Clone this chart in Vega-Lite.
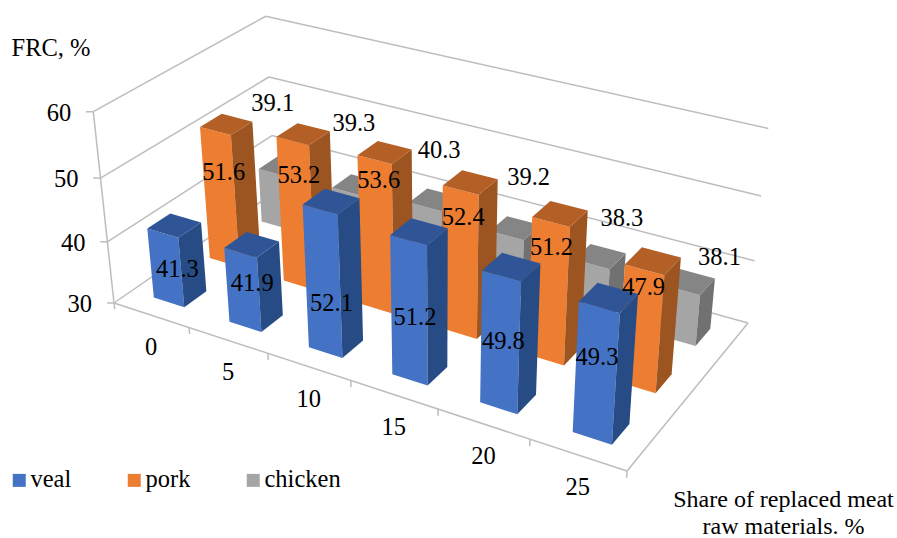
{"$schema":"https://vega.github.io/schema/vega-lite/v6.json","width":897,"height":538,"padding":0,"autosize":{"type":"none"},"background":"white","config":{"view":{"stroke":null},"text":{"font":"Liberation Serif","fontSize":24.5,"color":"#000000"},
"axisX":{"domain":false,"ticks":false,"labels":false,"grid":false,"titleFont":"Liberation Serif","titleFontSize":24,"titleFontWeight":"normal","titleColor":"#000000","titleX":783,"titleY":-32,"titleAlign":"center","titleBaseline":"alphabetic","titleLineHeight":27},
"axisY":{"domain":false,"ticks":false,"labels":false,"grid":false,"titleFont":"Liberation Serif","titleFontSize":24.5,"titleFontWeight":"normal","titleColor":"#000000","titleAngle":0,"titleX":11,"titleY":55,"titleAlign":"left","titleBaseline":"alphabetic"}},
"datasets":{
"bars":[{"share":0,"meat":"chicken","value":39.1},{"share":5,"meat":"chicken","value":39.3},{"share":10,"meat":"chicken","value":40.3},{"share":15,"meat":"chicken","value":39.2},{"share":20,"meat":"chicken","value":38.3},{"share":25,"meat":"chicken","value":38.1},{"share":0,"meat":"pork","value":51.6},{"share":5,"meat":"pork","value":53.2},{"share":10,"meat":"pork","value":53.6},{"share":15,"meat":"pork","value":52.4},{"share":20,"meat":"pork","value":51.2},{"share":25,"meat":"pork","value":47.9},{"share":0,"meat":"veal","value":41.3},{"share":5,"meat":"veal","value":41.9},{"share":10,"meat":"veal","value":52.1},{"share":15,"meat":"veal","value":51.2},{"share":20,"meat":"veal","value":49.8},{"share":25,"meat":"veal","value":49.3}],
"frame":[
{"s1":0,"d1":0,"l1":30,"s2":0,"d2":3,"l2":30},{"s1":0,"d1":3,"l1":30,"s2":30,"d2":3,"l2":30},
{"s1":0,"d1":0,"l1":40,"s2":0,"d2":3,"l2":40},{"s1":0,"d1":3,"l1":40,"s2":30,"d2":3,"l2":40},
{"s1":0,"d1":0,"l1":50,"s2":0,"d2":3,"l2":50},{"s1":0,"d1":3,"l1":50,"s2":30,"d2":3,"l2":50},
{"s1":0,"d1":0,"l1":60,"s2":0,"d2":3,"l2":60},{"s1":0,"d1":3,"l1":60,"s2":30,"d2":3,"l2":60},
{"s1":0,"d1":0,"l1":30,"s2":30,"d2":0,"l2":30},{"s1":30,"d1":0,"l1":30,"s2":30,"d2":3,"l2":30},{"s1":0,"d1":0,"l1":30,"s2":0,"d2":0,"l2":60},
{"s1":0,"d1":0,"l1":30,"s2":-0.325,"d2":-0.037,"l2":30},{"s1":0,"d1":0,"l1":40,"s2":-0.325,"d2":-0.037,"l2":40},{"s1":0,"d1":0,"l1":50,"s2":-0.325,"d2":-0.037,"l2":50},{"s1":0,"d1":0,"l1":60,"s2":-0.325,"d2":-0.037,"l2":60},
{"s1":0,"d1":0,"l1":30,"s2":0,"d2":0,"l2":28.95},{"s1":5,"d1":0,"l1":30,"s2":5,"d2":0,"l2":28.95},{"s1":10,"d1":0,"l1":30,"s2":10,"d2":0,"l2":28.95},{"s1":15,"d1":0,"l1":30,"s2":15,"d2":0,"l2":28.95},{"s1":20,"d1":0,"l1":30,"s2":20,"d2":0,"l2":28.95},{"s1":25,"d1":0,"l1":30,"s2":25,"d2":0,"l2":28.95},{"s1":30,"d1":0,"l1":30,"s2":30,"d2":0,"l2":28.95}],
"levels":[{"level":30},{"level":40},{"level":50},{"level":60}],
"shares":[{"share":0},{"share":5},{"share":10},{"share":15},{"share":20},{"share":25}]},
"layer":[
{"data":{"name":"frame"},"transform":[
{"calculate":"1-0.1428*datum.s1/30+0.1211*datum.d1/3-0.06*(datum.l1-30)/30","as":"h1"},
{"calculate":"(114+423.5*datum.s1/30+194.3*datum.d1/3-26.3*(datum.l1-30)/30)/datum.h1","as":"sx1"},
{"calculate":"(303+100.7*datum.s1/30-87.75*datum.d1/3-198*(datum.l1-30)/30)/datum.h1","as":"sy1"},
{"calculate":"1-0.1428*datum.s2/30+0.1211*datum.d2/3-0.06*(datum.l2-30)/30","as":"h2"},
{"calculate":"(114+423.5*datum.s2/30+194.3*datum.d2/3-26.3*(datum.l2-30)/30)/datum.h2","as":"sx2"},
{"calculate":"(303+100.7*datum.s2/30-87.75*datum.d2/3-198*(datum.l2-30)/30)/datum.h2","as":"sy2"}],
"mark":{"type":"rule","color":"#bdbdbd","strokeWidth":1.5},
"encoding":{"x":{"field":"sx1","type":"quantitative","scale":{"domain":[0,897],"nice":false,"zero":false},"title":["Share of replaced meat","raw materials. %"]},"y":{"field":"sy1","type":"quantitative","scale":{"domain":[538,0],"nice":false,"zero":false},"title":"FRC, %"},"x2":{"field":"sx2"},"y2":{"field":"sy2"}}},
{"data":{"name":"bars"},"transform":[
{"calculate":"[0,1,2,3,4,5,6,7,8,9,10,11]","as":"vid"},{"flatten":["vid"]},
{"calculate":"datum.share/5","as":"i"},
{"calculate":"indexof(['veal','pork','chicken'],datum.meat)","as":"j"},
{"calculate":"[0,1,1,0,1,1,1,1,0,1,1,0][datum.vid]","as":"pu"},
{"calculate":"[0,0,0,0,0,1,1,0,0,0,1,1][datum.vid]","as":"pv"},
{"calculate":"[0,0,1,1,0,0,1,1,1,1,1,1][datum.vid]","as":"pw"},
{"calculate":"(datum.i+0.5)/6+(2*datum.pu-1)*0.034","as":"u"},
{"calculate":"(datum.j+0.5)/3+(2*datum.pv-1)*0.065","as":"v"},
{"calculate":"datum.pw*(datum.value-30)/30","as":"w"},
{"calculate":"1-0.1428*datum.u+0.1211*datum.v-0.06*datum.w","as":"h"},
{"calculate":"(114+423.5*datum.u+194.3*datum.v-26.3*datum.w)/datum.h","as":"sx"},
{"calculate":"(303+100.7*datum.u-87.75*datum.v-198*datum.w)/datum.h","as":"sy"},
{"calculate":"datum.meat+['',' side',' top'][floor(datum.vid/4)]","as":"face"},
{"calculate":"datum.share+' '+datum.face","as":"key"}],
"mark":{"type":"line","filled":true,"interpolate":"linear"},
"encoding":{"x":{"field":"sx","type":"quantitative","scale":{"domain":[0,897],"nice":false,"zero":false},"title":["Share of replaced meat","raw materials. %"]},"y":{"field":"sy","type":"quantitative","scale":{"domain":[538,0],"nice":false,"zero":false},"title":"FRC, %"},"order":{"field":"vid","type":"quantitative"},"detail":{"field":"key"},
"color":{"field":"face","type":"nominal","scale":{"domain":["veal","pork","chicken","veal side","pork side","chicken side","veal top","pork top","chicken top"],"range":["#4472c4","#ed7d31","#a5a5a5","#264b85","#9c5420","#717171","#2f5597","#b35f26","#858585"]},"legend":{"values":["veal","pork","chicken"],"title":null,"orient":"none","legendX":7,"legendY":468,"direction":"horizontal","symbolType":"square","symbolSize":169,"symbolStrokeWidth":0,"labelFont":"Liberation Serif","labelFontSize":24.5,"labelColor":"#000000","labelOffset":-1,"columnPadding":50}}}},
{"data":{"name":"bars"},"transform":[
{"calculate":"datum.share/5","as":"i"},
{"calculate":"indexof(['veal','pork','chicken'],datum.meat)","as":"j"},
{"calculate":"(datum.i+0.5)/6","as":"u0"},
{"calculate":"datum.u0+[-0.015*datum.u0,-0.013,0.08*(datum.u0-0.29)][datum.j]","as":"u"},
{"calculate":"(datum.j+0.5)/3","as":"v"},
{"calculate":"[[0.147,0.194,0.218,0.276,0.292,0.35],[0.459,0.554,0.641,0.567,0.536,0.463],[0.652,0.655,0.622,0.6,0.513,0.44]][datum.j][datum.i]","as":"w"},
{"calculate":"1-0.1428*datum.u+0.1211*datum.v-0.06*datum.w","as":"h"},
{"calculate":"(114+423.5*datum.u+194.3*datum.v-26.3*datum.w)/datum.h","as":"sx"},
{"calculate":"(303+100.7*datum.u-87.75*datum.v-198*datum.w)/datum.h","as":"sy"}],
"mark":{"type":"text","align":"center","baseline":"middle","dy":2},
"encoding":{"x":{"field":"sx","type":"quantitative","scale":{"domain":[0,897],"nice":false,"zero":false},"title":["Share of replaced meat","raw materials. %"]},"y":{"field":"sy","type":"quantitative","scale":{"domain":[538,0],"nice":false,"zero":false},"title":"FRC, %"},"text":{"field":"value","type":"quantitative","format":".1f"}}},
{"data":{"name":"levels"},"transform":[
{"calculate":"1-0.06*(datum.level-30)/30","as":"h"},
{"calculate":"(114-26.3*(datum.level-30)/30)/datum.h","as":"sx"},
{"calculate":"(303-198*(datum.level-30)/30)/datum.h","as":"sy"}],
"mark":{"type":"text","align":"right","baseline":"middle","dx":-22,"dy":2},
"encoding":{"x":{"field":"sx","type":"quantitative","scale":{"domain":[0,897],"nice":false,"zero":false},"title":["Share of replaced meat","raw materials. %"]},"y":{"field":"sy","type":"quantitative","scale":{"domain":[538,0],"nice":false,"zero":false},"title":"FRC, %"},"text":{"field":"level","type":"quantitative"}}},
{"data":{"name":"shares"},"transform":[
{"calculate":"(datum.share+2.5)/30","as":"u"},
{"calculate":"1-0.1428*datum.u","as":"h"},
{"calculate":"(114+423.5*datum.u)/datum.h","as":"sx"},
{"calculate":"(303+100.7*datum.u)/datum.h","as":"sy"}],
"mark":{"type":"text","align":"center","baseline":"middle","dy":33},
"encoding":{"x":{"field":"sx","type":"quantitative","scale":{"domain":[0,897],"nice":false,"zero":false},"title":["Share of replaced meat","raw materials. %"]},"y":{"field":"sy","type":"quantitative","scale":{"domain":[538,0],"nice":false,"zero":false},"title":"FRC, %"},"text":{"field":"share","type":"quantitative"}}}
]}
